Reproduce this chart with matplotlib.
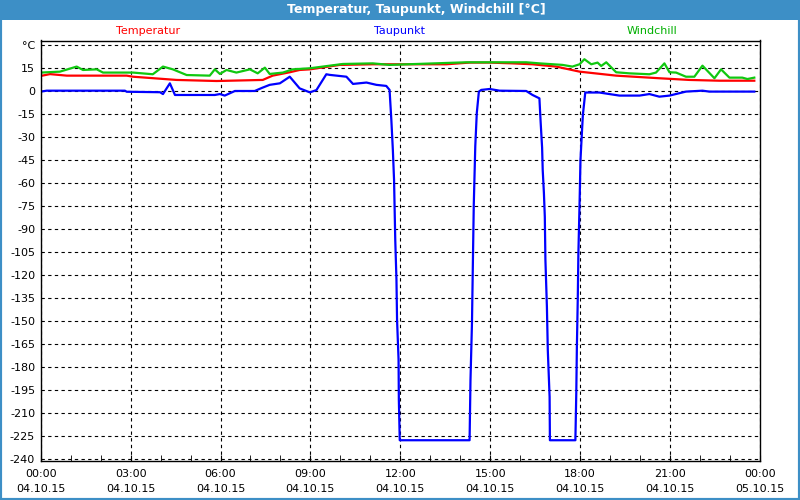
import matplotlib
matplotlib.use("Agg")
import matplotlib.pyplot as plt
from matplotlib.patches import Rectangle
import numpy as np

# Zeit in Stunden ab 04.10.15 00:00
tau_t = [0, 0.2, 2.81, 2.87, 3.98, 4.08, 4.31, 4.48, 5.81, 5.98, 6.14, 6.48, 7.14, 7.38,
         7.64, 7.98, 8.31, 8.64, 8.98, 9.2, 9.53, 9.64, 10.2, 10.42, 10.87, 11.2, 11.53,
         11.64, 11.7, 11.75, 11.79, 11.81, 11.83, 11.87, 11.89, 11.94, 11.95, 11.98,
         14.31, 14.34, 14.39, 14.42, 14.45, 14.5, 14.55, 14.62, 14.7, 14.98, 15.31,
         16.2, 16.41, 16.64, 16.68, 16.73, 16.75, 16.79, 16.82, 16.84, 16.89, 16.92,
         16.98, 16.99, 17.84, 17.87, 17.89, 17.92, 17.94, 17.98, 18.01, 18.05, 18.09,
         18.17, 18.64, 19.31, 19.98, 20.31, 20.64, 20.98, 21.53, 22.08, 22.31, 23.81]
tau_v = [-0.4, 0.2, 0.2, -0.5, -0.8, -2, 5, -2.6, -2.6, -2, -3, 0, 0, 2,
         4, 5, 9.3, 1.7, -0.9, 0.6, 10.9, 10.5, 9.3, 4.6, 5.5, 4, 3.3,
         0.7, -19, -38.5, -58, -77.6, -97, -123, -149, -175, -201.5, -227.6,
         -227.6, -188.5, -151, -112, -74, -36, -14.5, -0.4, 0.7, 1.3, 0.2,
         0, -2.6, -4.8, -20, -37, -51.5, -66.5, -82, -110, -140.7, -169,
         -199.4, -227.6, -227.6, -197, -166.8, -135, -106, -73, -45, -30, -15.6,
         -1, -1, -3, -3, -2, -3.7, -3, -0.4, 0.2, -0.4, -0.4]

temp_t = [0, 0.31, 0.87, 2.87, 3.08, 3.98, 4.53, 5.87, 7.41, 7.74, 8.31, 8.64, 8.98,
          9.98, 11.08, 13.53, 14.31, 14.98, 15.74, 16.41, 17.2, 17.98, 19.2, 20.64,
          21.64, 22.64, 23.81]
temp_v = [9.8, 11, 10, 10, 9.3, 8, 7.2, 6.5, 7.2, 10, 12.2, 13.7, 14.1,
          17, 17.4, 17.4, 18.5, 18.5, 18, 17.4, 15.9, 12.6, 10, 8.3,
          7.2, 6.7, 6.7]

wind_t = [0, 0.64, 1.2, 1.41, 1.87, 2.08, 2.41, 3.08, 3.74, 4.08, 4.41, 4.87, 5.64,
          5.81, 5.98, 6.2, 6.53, 6.98, 7.24, 7.48, 7.64, 8.08, 8.41, 8.98, 10.08,
          11.08, 11.64, 14.2, 16.2, 16.64, 17.41, 17.74, 17.98, 18.14, 18.37, 18.58,
          18.7, 18.87, 19.2, 19.64, 20.31, 20.53, 20.81, 20.98, 21.2, 21.53, 21.81,
          22.08, 22.48, 22.7, 22.98, 23.41, 23.58, 23.81]
wind_v = [12, 12.6, 15.9, 13.7, 14.1, 12, 12, 12, 10.9, 15.9, 14.1, 10.4, 10,
          14.1, 11.1, 13.7, 12, 14.1, 11.5, 15.2, 11.1, 12, 14.1, 14.8, 17.6,
          18, 17, 18.7, 18.7, 18, 17, 15.9, 17.4, 20.7, 17.4, 18.5,
          16.3, 18.7, 12.2, 11.5, 10.9, 12, 18, 12.2, 12, 9.3, 9.3,
          16.5, 8.3, 14.1, 8.7, 8.7, 7.8, 8.7]

x_ticks = [0, 3, 6, 9, 12, 15, 18, 21, 24]
x_labels = ["00:00\n04.10.15", "03:00\n04.10.15", "06:00\n04.10.15", "09:00\n04.10.15",
            "12:00\n04.10.15", "15:00\n04.10.15", "18:00\n04.10.15", "21:00\n04.10.15",
            "00:00\n05.10.15"]
y_ticks = list(range(30, -241, -15))
y_labels = ["°C"] + [str(v) for v in y_ticks[1:]]

blue_frame = "#3d8fc6"

fig = plt.figure(figsize=(8, 5), dpi=100)
ax = fig.add_axes([40.7 / 800, 1 - 460.5 / 500, (760 - 40.7) / 800, 420 / 500])

ax.plot(temp_t, temp_v, color="#ff0000", lw=1.6)
ax.plot(wind_t, wind_v, color="#10c810", lw=1.6)
ax.plot(tau_t, tau_v, color="#0000ff", lw=1.6)

ax.set_xlim(0, 24)
ax.set_ylim(-240.8, 32.9)
ax.set_xticks(x_ticks)
ax.set_xticklabels(x_labels, fontsize=8, linespacing=1.6)
ax.set_xticks(range(0, 25), minor=True)
ax.set_yticks(y_ticks)
ax.set_yticklabels(y_labels, fontsize=8)
ax.tick_params(axis="x", which="both", direction="in", length=4, pad=6, color="black")
ax.tick_params(axis="y", length=0, pad=4)
ax.grid(True, which="major", color="black", linestyle=(0, (3, 3)), linewidth=0.8)
for s in ax.spines.values():
    s.set_color("black")
    s.set_linewidth(1)

# Titelleiste und Rahmen
fig.patches.append(Rectangle((0, 1 - 20 / 500), 1, 20 / 500, transform=fig.transFigure,
                             facecolor=blue_frame, edgecolor="none", zorder=-1))
fig.patches.append(Rectangle((0, 0), 1, 1, transform=fig.transFigure,
                             facecolor="none", edgecolor=blue_frame, linewidth=3, zorder=-1))
fig.text(416 / 800, 1 - 10 / 500, "Temperatur, Taupunkt, Windchill [°C]", color="white",
         fontsize=9, fontweight="bold", ha="center", va="center")

fig.text(148 / 800, 1 - 31 / 500, "Temperatur", color="#ff0000", fontsize=8, ha="center", va="center")
fig.text(399 / 800, 1 - 31 / 500, "Taupunkt", color="#0000ff", fontsize=8, ha="center", va="center")
fig.text(652 / 800, 1 - 31 / 500, "Windchill", color="#00b000", fontsize=8, ha="center", va="center")

fig.savefig("out.png", dpi=100)
